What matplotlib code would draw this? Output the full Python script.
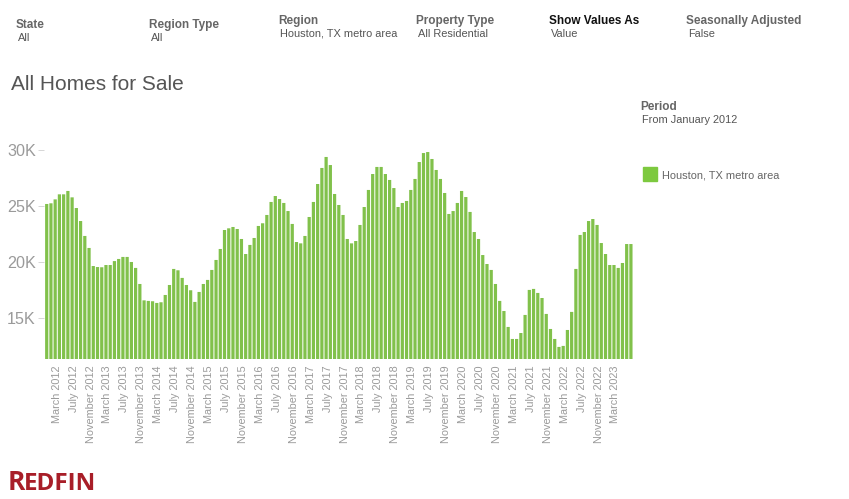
#!/usr/bin/env python3
"""
plot.py
─────────────
Plot the monthly homes-for-sale bars for the Houston metro area.
"""

# ── editable defaults ────────────────────────────────────────────────────────
WIDTH, HEIGHT = 849, 499     # picture size in pixels
BAR_COLOUR  = "#81c14b"
KEY_COLOUR  = "#7dc93f"
LABEL_STEP  = 4              # months between x labels
# ─────────────────────────────────────────────────────────────────────────────

import pandas as pd
import matplotlib.pyplot as plt
from matplotlib.ticker import FuncFormatter
from matplotlib.transforms import ScaledTranslation

# ── monthly values, January 2012 onward ──────────────────────────────────────
homes = [
    25190, 25250, 25600, 26050, 26050, 26350, 25780, 24830, 23670, 22340, 21270, 19660,
    19570, 19550, 19750, 19750, 20100, 20290, 20470, 20470, 20020, 19490, 18060, 16600,
    16550, 16520, 16370, 16430, 17080, 17970, 19400, 19280, 18600, 17970, 17500, 16460,
    17350, 18060, 18420, 19310, 20200, 21180, 22870, 23020, 23140, 22960, 22070, 20730,
    21540, 22160, 23230, 23470, 24210, 25370, 25900, 25630, 25280, 24560, 23410, 21800,
    21680, 22340, 24030, 25370, 26970, 28400, 29380, 28660, 26080, 25100, 24210, 22070,
    21680, 21890, 23320, 24920, 26440, 27860, 28490, 28490, 27860, 27330, 26610, 24920,
    25280, 25460, 26440, 27420, 28930, 29730, 29820, 29200, 28220, 27420, 26170, 24300,
    24560, 25280, 26350, 25810, 24480, 22690, 22070, 20640, 19840, 19310, 18060, 16550,
    15650, 14230, 13160, 13160, 13690, 15300, 17530, 17620, 17260, 16810, 15390, 14050,
    13160, 12450, 12540, 13960, 15570, 19400, 22430, 22690, 23670, 23850, 23320, 21710,
    20730, 19750, 19750, 19490, 19930, 21620, 21620,
]
months = pd.date_range("2012-01-01", periods=len(homes), freq="MS")

# ── plotting look & feel ─────────────────────────────────────────────────────
plt.rcParams.update({
    "font.family": "Liberation Sans",
    "font.size": 8,
    "xtick.labelsize": 7.8,
    "ytick.labelsize": 11.6,
    "xtick.color": "#9a9a9a",
    "ytick.color": "#9a9a9a",
})
fig, ax = plt.subplots(figsize=(WIDTH/100, HEIGHT/100), dpi=100)
fig.subplots_adjust(left=44/WIDTH, right=636/WIDTH, top=1 - 130/HEIGHT, bottom=1 - 358.7/HEIGHT)

ax.bar(range(len(homes)), homes, width=0.76, color=BAR_COLOUR, snap=False)
ax.set_xlim(-0.64, 139.2)
ax.set_ylim(11400, 31783)

# x-axis labels every 4 months, from March 2012
ticks = range(2, len(homes) - 4, LABEL_STEP)
ax.set_xticks(list(ticks))
ax.set_xticklabels([months[t].strftime("%B %Y") for t in ticks], rotation=90, va="top")
ax.tick_params(axis="x", length=0, pad=5)
nudge = ScaledTranslation(1.5/100, 0, fig.dpi_scale_trans)   # labels sit a little right
for label in ax.get_xticklabels():
    label.set_transform(label.get_transform() + nudge)

ax.set_yticks([15000, 20000, 25000, 30000])
ax.yaxis.set_major_formatter(FuncFormatter(lambda x, _: f"{int(x/1000)}K"))
ax.tick_params(axis="y", length=4, width=0.6, color="#d0d0d0", pad=2)

for side in ax.spines.values():
    side.set_visible(False)

# ── filter headers and values ────────────────────────────────────────────────
headers = [
    (16,  25, "State",               "All",                     "#666666"),
    (149, 25, "Region Type",         "All",                     "#666666"),
    (278, 21, "Region",              "Houston, TX metro area",  "#666666"),
    (416, 21, "Property Type",       "All Residential",         "#666666"),
    (549, 21, "Show Values As",      "Value",                   "#111111"),
    (686, 21, "Seasonally Adjusted", "False",                   "#666666"),
    (640, 107, "Period",             "From January 2012",       "#666666"),
]
for x, y, head, value, colour in headers:
    fig.text(x/WIDTH, 1 - y/HEIGHT, head, color=colour, fontsize=8.5,
             fontweight="bold", va="center")
    fig.text((x + 2)/WIDTH, 1 - (y + 13)/HEIGHT, value, color="#555555",
             fontsize=7.9, va="center")

fig.text(11/WIDTH, 1 - 84/HEIGHT, "All Homes for Sale", color="#555555",
         fontsize=15, va="center")

# legend key, placed by hand
key = plt.Rectangle((643/WIDTH, 1 - 181/HEIGHT), 14/WIDTH, 14/HEIGHT,
                    transform=fig.transFigure, color=KEY_COLOUR)
fig.patches.append(key)
fig.text(662/WIDTH, 1 - 175/HEIGHT, "Houston, TX metro area", color="#666666",
         fontsize=7.9, va="center")

# logo as text
fig.text(8/WIDTH, 1 - 490/HEIGHT, "R", color="#a81e28", fontsize=19,
         fontfamily="Open Sans", fontweight="bold", va="baseline")
fig.text(24/WIDTH, 1 - 490/HEIGHT, "EDFIN", color="#a81e28", fontsize=17.5,
         fontfamily="Open Sans", fontweight="bold", va="baseline")

fig.savefig("out.png")
